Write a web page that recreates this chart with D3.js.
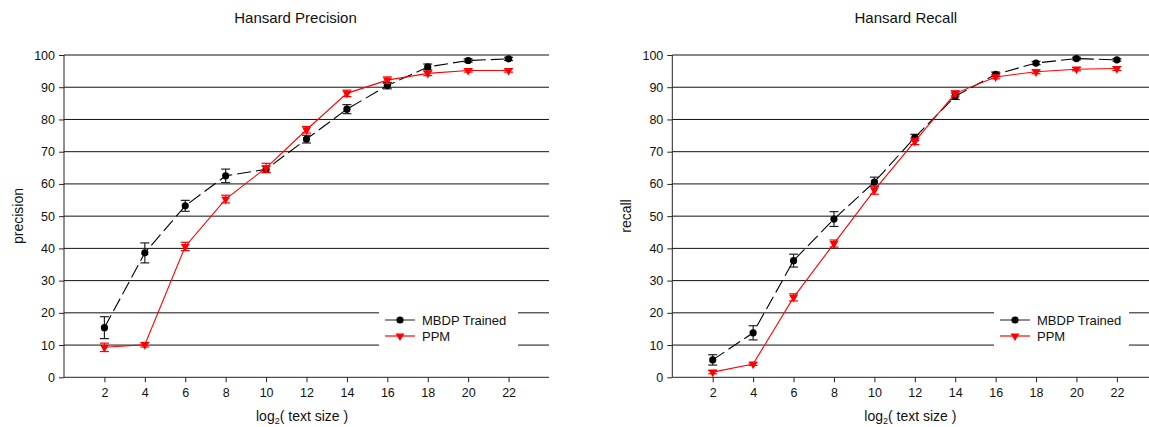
<!DOCTYPE html>
<html>
<head>
<meta charset="utf-8">
<script src="https://cdn.jsdelivr.net/npm/d3@7"></script>
<style>
  body { margin: 0; background: #fff; overflow: hidden; }
  svg { font-family: "Liberation Sans", Arial, sans-serif; display: block; }
</style>
</head>
<body>
<div id="chart"></div>
<script>
// x values (log2 of text size)
const sizes = [2, 4, 6, 8, 10, 12, 14, 16, 18, 20, 22];
const xTicks = [2, 4, 6, 8, 10, 12, 14, 16, 18, 20, 22];
const yTicks = [0, 10, 20, 30, 40, 50, 60, 70, 80, 90, 100];
const seriesNames = ["MBDP Trained", "PPM"];

// Hansard precision
const precisionMbdp = [15.4, 38.6, 53.2, 62.5, 64.5, 73.9, 83.2, 90.5, 96.3, 98.3, 98.8];
const precisionMbdpErr = [3.4, 3.1, 1.7, 2.1, 1.0, 1.2, 1.4, 1.0, 0.9, 0.5, 0.5];
const precisionPpm = [9.3, 10.1, 40.6, 55.3, 65.0, 76.8, 88.1, 92.2, 94.3, 95.2, 95.2];
const precisionPpmErr = [1.3, 0.7, 1.3, 1.2, 1.4, 1.0, 1.0, 1.0, 0.7, 0.5, 0.5];

// Hansard recall
const recallMbdp = [5.4, 13.8, 36.2, 49.1, 60.6, 74.4, 87.2, 94.0, 97.5, 98.9, 98.5];
const recallMbdpErr = [1.6, 2.2, 2.0, 2.3, 1.5, 1.0, 1.0, 0.7, 0.5, 0.4, 0.4];
const recallPpm = [1.6, 4.1, 24.8, 41.5, 58.1, 73.2, 88.1, 93.2, 94.8, 95.6, 95.8];
const recallPpmErr = [0.5, 0.4, 1.1, 1.1, 1.3, 1.0, 0.8, 0.6, 0.6, 0.5, 0.6];

const width = 1149, height = 427;

const svg = d3.select("#chart").append("svg")
  .attr("width", width)
  .attr("height", height);

const panels = [
  { title: "Hansard Precision", ylabel: "precision", left: 64, titleShift: -11,
    legendLeft: 379, legendRight: 518,
    series: [
      { values: precisionMbdp, err: precisionMbdpErr },
      { values: precisionPpm, err: precisionPpmErr }
    ] },
  { title: "Hansard Recall", ylabel: "recall", left: 672.3, titleShift: -9,
    legendLeft: 994, legendRight: 1129,
    series: [
      { values: recallMbdp, err: recallMbdpErr },
      { values: recallPpm, err: recallPpmErr }
    ] }
];

const styles = [
  { color: "#000", dash: "14,5", marker: "circle" },
  { color: "#ff0000", dash: null, marker: "triangle" }
];

const plotW = 485, plotTop = 55, plotBottom = 377.3;

function drawMarker(g, type, color) {
  if (type === "circle") {
    g.append("circle").attr("r", 3.6).attr("fill", color);
  } else {
    g.append("path")
      .attr("d", d3.symbol().type(d3.symbolTriangle).size(34)())
      .attr("transform", "rotate(180)")
      .attr("fill", color);
  }
}

panels.forEach(p => {
  const x = d3.scaleLinear().domain([0, 24]).range([p.left, p.left + plotW]);
  const y = d3.scaleLinear().domain([0, 100]).range([plotBottom, plotTop]);

  // gridlines
  svg.append("g").selectAll("line")
    .data(yTicks.slice(1))
    .join("line")
    .attr("x1", p.left).attr("x2", p.left + plotW)
    .attr("y1", d => y(d)).attr("y2", d => y(d))
    .attr("stroke", "#111").attr("stroke-width", 1);

  // legend box (covers gridlines)
  svg.append("rect")
    .attr("x", p.legendLeft).attr("y", 312)
    .attr("width", p.legendRight - p.legendLeft).attr("height", 34)
    .attr("fill", "#fff");

  // axes
  const yAxis = svg.append("g")
    .attr("transform", `translate(${p.left},0)`)
    .call(d3.axisLeft(y).tickValues(yTicks).tickSize(5).tickPadding(4));
  const xAxis = svg.append("g")
    .attr("transform", `translate(0,${plotBottom})`)
    .call(d3.axisBottom(x).tickValues(xTicks).tickSize(5).tickPadding(6));
  [xAxis, yAxis].forEach(a => {
    a.select(".domain").attr("stroke", "#222");
    a.selectAll(".tick line").attr("stroke", "#222");
    a.selectAll("text").attr("font-size", 12.5).attr("fill", "#111")
      .attr("font-family", "Liberation Sans, Arial, sans-serif");
  });
  yAxis.select(".domain").attr("d", `M0,${plotTop}V${plotBottom}`);
  xAxis.select(".domain").attr("d", `M${p.left},0H${p.left + plotW}`);

  // series
  p.series.forEach((s, si) => {
    const st = styles[si];
    const pts = sizes.map((v, i) => ({ x: v, y: s.values[i], e: s.err[i] }));
    const line = d3.line().x(d => x(d.x)).y(d => y(d.y));
    svg.append("path")
      .datum(pts)
      .attr("d", line)
      .attr("fill", "none")
      .attr("stroke", st.color)
      .attr("stroke-width", 1.1)
      .attr("stroke-dasharray", st.dash);

    const eb = svg.append("g").selectAll("g")
      .data(pts).join("g")
      .attr("stroke", si === 0 ? "#222" : st.color)
      .attr("stroke-width", 1.2);
    eb.append("line")
      .attr("x1", d => x(d.x)).attr("x2", d => x(d.x))
      .attr("y1", d => y(d.y + d.e)).attr("y2", d => y(d.y - d.e));
    eb.append("line")
      .attr("x1", d => x(d.x) - 4.5).attr("x2", d => x(d.x) + 4.5)
      .attr("y1", d => y(d.y + d.e)).attr("y2", d => y(d.y + d.e));
    eb.append("line")
      .attr("x1", d => x(d.x) - 4.5).attr("x2", d => x(d.x) + 4.5)
      .attr("y1", d => y(d.y - d.e)).attr("y2", d => y(d.y - d.e));

    svg.append("g").selectAll("g")
      .data(pts).join("g")
      .attr("transform", d => `translate(${x(d.x)},${y(d.y)})`)
      .each(function() { drawMarker(d3.select(this), st.marker, st.color); });
  });

  // legend
  seriesNames.forEach((name, i) => {
    const st = styles[i];
    const ly = 320 + i * 16;
    const lx = p.legendLeft + 6;
    svg.append("line")
      .attr("x1", lx).attr("x2", lx + 30)
      .attr("y1", ly).attr("y2", ly)
      .attr("stroke", i === 0 ? "#444" : st.color).attr("stroke-width", 1.2);
    const m = svg.append("g").attr("transform", `translate(${lx + 15},${ly})`);
    drawMarker(m, st.marker, st.color);
    svg.append("text")
      .attr("x", lx + 37).attr("y", ly + 4.5)
      .attr("font-size", 13).attr("fill", "#111")
      .text(name);
  });

  // titles
  svg.append("text")
    .attr("x", p.left + plotW / 2 + p.titleShift).attr("y", 23)
    .attr("text-anchor", "middle").attr("font-size", 15).attr("fill", "#111")
    .text(p.title);

  const xl = svg.append("text")
    .attr("x", p.left + 192).attr("y", 421)
    .attr("font-size", 14).attr("fill", "#111");
  xl.append("tspan").text("log");
  xl.append("tspan").attr("font-size", 9).attr("dy", 3).text("2");
  xl.append("tspan").attr("dy", -3).text("( text size )");

  svg.append("text")
    .attr("transform", `translate(${p.left - 41},216) rotate(-90)`)
    .attr("text-anchor", "middle").attr("font-size", 14).attr("fill", "#111")
    .text(p.ylabel);
});
</script>
</body>
</html>
